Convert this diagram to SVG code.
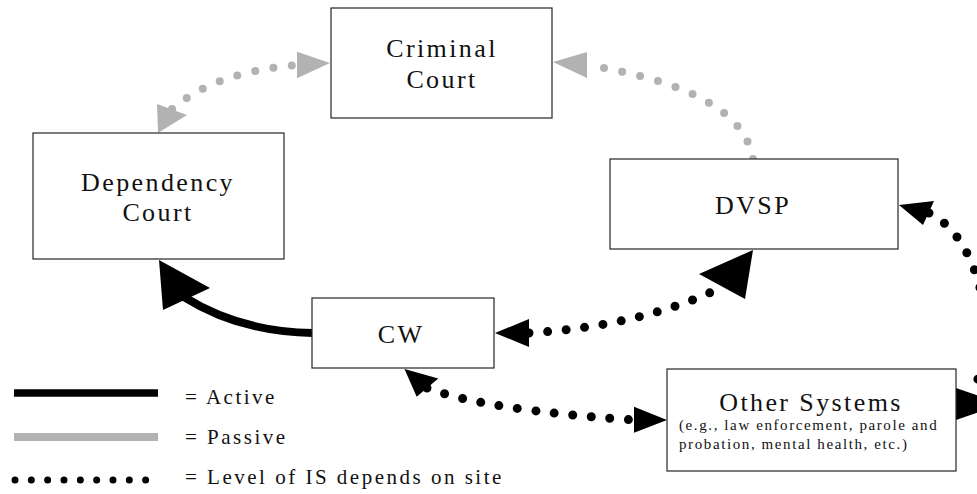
<svg xmlns="http://www.w3.org/2000/svg" width="977" height="494" viewBox="0 0 977 494">
  <style>
    .box { fill: #ffffff; stroke: #262626; stroke-width: 1.2; }
    .lbl { font-family: "Liberation Serif", "Times New Roman", serif; font-size: 26px; letter-spacing: 2.4px; fill: #111111; text-anchor: middle; }
    .sub { font-family: "Liberation Serif", "Times New Roman", serif; font-size: 15px; letter-spacing: 1.6px; fill: #111111; }
    .key { font-family: "Liberation Serif", "Times New Roman", serif; font-size: 21px; letter-spacing: 2.5px; fill: #111111; }
    .active { fill: none; stroke: #000000; stroke-width: 8; }
    .passive { fill: none; stroke: #b2b2b2; stroke-width: 8; stroke-linecap: round; stroke-dasharray: 0 18.5; }
    .level { fill: none; stroke: #000000; stroke-width: 9; stroke-linecap: round; stroke-dasharray: 0 18.6; }
    .head-a { fill: #000000; }
    .head-p { fill: #b2b2b2; }
  </style>

  <rect width="977" height="494" fill="#ffffff"/>

  <!-- connectors: curves first, arrowheads drawn over their ends -->
  <g id="connectors">
    <!-- Dependency Court <-> Criminal Court (passive) -->
    <path class="passive" d="M 172 109 Q 215 72 297 65"/>
    <polygon class="head-p" points="330,63 297,51.7 297,78.3"/>
    <polygon class="head-p" points="158,133 157,104 187,115"/>

    <!-- DVSP -> Criminal Court (passive) -->
    <path class="passive" d="M 753 159 Q 742 90 587 65"/>
    <polygon class="head-p" points="553,62 587,52 587,78"/>

    <!-- CW -> Dependency Court (active) -->
    <path class="active" d="M 313 333 Q 240 332 184 297"/>
    <polygon class="head-a" points="159,260 163,310 210,288"/>

    <!-- CW <-> DVSP (level of IS) -->
    <path class="level" d="M 529 333 Q 640 326 718 289"/>
    <polygon class="head-a" points="495,333 529,319 529,347"/>
    <polygon class="head-a" points="753,250 699,274 745,299"/>

    <!-- CW <-> Other Systems (level of IS) -->
    <path class="level" d="M 427 388 Q 485 410 634 420"/>
    <polygon class="head-a" points="404.5,369 438.3,378.5 416.7,396.7"/>
    <polygon class="head-a" points="667,420 634,406.7 634,432.7"/>

    <!-- DVSP <-> Other Systems (level of IS), running off the right edge -->
    <path class="level" d="M 929 213 C 985 240 1000 350 972 390"/>
    <polygon class="head-a" points="899,205 934,201 923,225"/>
    <polygon class="head-a" points="956,388 956,420 1003,404"/>
  </g>

  <g id="criminal-court">
    <rect class="box" x="331" y="8" width="221" height="110"/>
    <text class="lbl" x="442" y="57">Criminal</text>
    <text class="lbl" x="442" y="88">Court</text>
  </g>

  <g id="dependency-court">
    <rect class="box" x="33" y="133" width="251" height="126"/>
    <text class="lbl" x="158" y="191">Dependency</text>
    <text class="lbl" x="158" y="221">Court</text>
  </g>

  <g id="dvsp">
    <rect class="box" x="610" y="159" width="288" height="90"/>
    <text class="lbl" x="753" y="214">DVSP</text>
  </g>

  <g id="cw">
    <rect class="box" x="312" y="298" width="182" height="70"/>
    <text class="lbl" x="401" y="343">CW</text>
  </g>

  <g id="other-systems">
    <rect class="box" x="667" y="369" width="289" height="102"/>
    <text class="lbl" x="811" y="411">Other Systems</text>
    <text class="sub" x="679" y="430">(e.g., law enforcement, parole and</text>
    <text class="sub" x="679" y="449">probation, mental health, etc.)</text>
  </g>

  <!-- key -->
  <g id="legend">
    <line x1="14" y1="393" x2="158" y2="393" stroke="#000000" stroke-width="7.5"/>
    <line x1="14" y1="437" x2="158" y2="437" stroke="#b2b2b2" stroke-width="8"/>
    <line x1="15" y1="480" x2="146" y2="480" stroke="#000000" stroke-width="7" stroke-linecap="round" stroke-dasharray="0 16.33"/>
    <text class="key" x="185" y="404">= Active</text>
    <text class="key" x="185" y="444">= Passive</text>
    <text class="key" x="185" y="484">= Level of IS depends on site</text>
  </g>
</svg>
